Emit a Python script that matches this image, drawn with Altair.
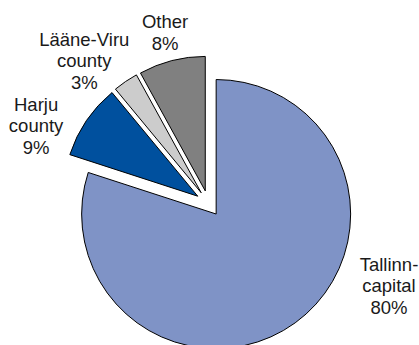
import math
import altair as alt
import pandas as pd

# ---- data ----
categories = ["Tallinn-capital", "Harju county", "Lääne-Viru county", "Other"]
label_lines = ["Tallinn-\ncapital", "Harju\ncounty", "Lääne-Viru\ncounty", "Other"]
shares = [80, 9, 3, 8]

# ---- style / layout ----
colors = ["#7F93C6", "#00509E", "#CCCCCC", "#808080"]
W, H = 419, 345
CX, CY = 208.5, 203.5      # pie centre (px)
R = 134.5                   # pie radius (px)
EXPLODE = 13                # explosion distance of every slice (px)
LINE_H = 21.5
label_angle = [114.6, 294.2, 318.9, 345.7]   # label direction (deg, clockwise from top)
label_dist = [198.5, 189, 189, 176]          # label distance from pie centre (px)

texts = [f"{l}\n{s}%" for l, s in zip(label_lines, shares)]
df = pd.DataFrame({
    "category": categories,
    "share": shares,
    "order": list(range(len(categories))),
    "text": texts,
    "nl": [t.count("\n") + 1 for t in texts],
    "la": label_angle,
    "ld": label_dist,
})

base = alt.Chart(df).transform_window(
    cum="sum(share)", sort=[alt.SortField("order")], frame=[None, 0]
).transform_calculate(
    start="datum.cum - datum.share",
    mid="(datum.cum - datum.share / 2) / 100 * 2 * PI",
).transform_calculate(
    cx=f"{CX} + {EXPLODE} * sin(datum.mid)",
    cy=f"{CY} - {EXPLODE} * cos(datum.mid)",
    lx=f"{CX} + datum.ld * sin(datum.la * PI / 180)",
    ly=f"{CY} - datum.ld * cos(datum.la * PI / 180) - (datum.nl - 1) * {LINE_H} / 2",
)

pie = base.mark_arc(radius=R, stroke="black", strokeWidth=1).encode(
    x=alt.X("cx:Q", scale=None, axis=None),
    y=alt.Y("cy:Q", scale=None, axis=None),
    theta=alt.Theta("start:Q", scale=alt.Scale(domain=[0, 100], range=[0, 2 * math.pi])),
    theta2=alt.Theta2("cum:Q"),
    color=alt.Color("category:N", scale=alt.Scale(domain=categories, range=colors), legend=None),
)

labels = base.mark_text(
    font="Liberation Sans", fontSize=18.5, lineBreak="\n", lineHeight=LINE_H,
    align="center", baseline="middle", color="#1a1a1a",
).encode(
    x=alt.X("lx:Q", scale=None, axis=None),
    y=alt.Y("ly:Q", scale=None, axis=None),
    text="text:N",
)

chart = alt.layer(pie, labels).properties(
    width=W, height=H, autosize=alt.AutoSizeParams(type="none"), padding=0,
).configure_view(stroke=None)

chart.save("out.html", embed_options={"renderer": "svg", "actions": False})
